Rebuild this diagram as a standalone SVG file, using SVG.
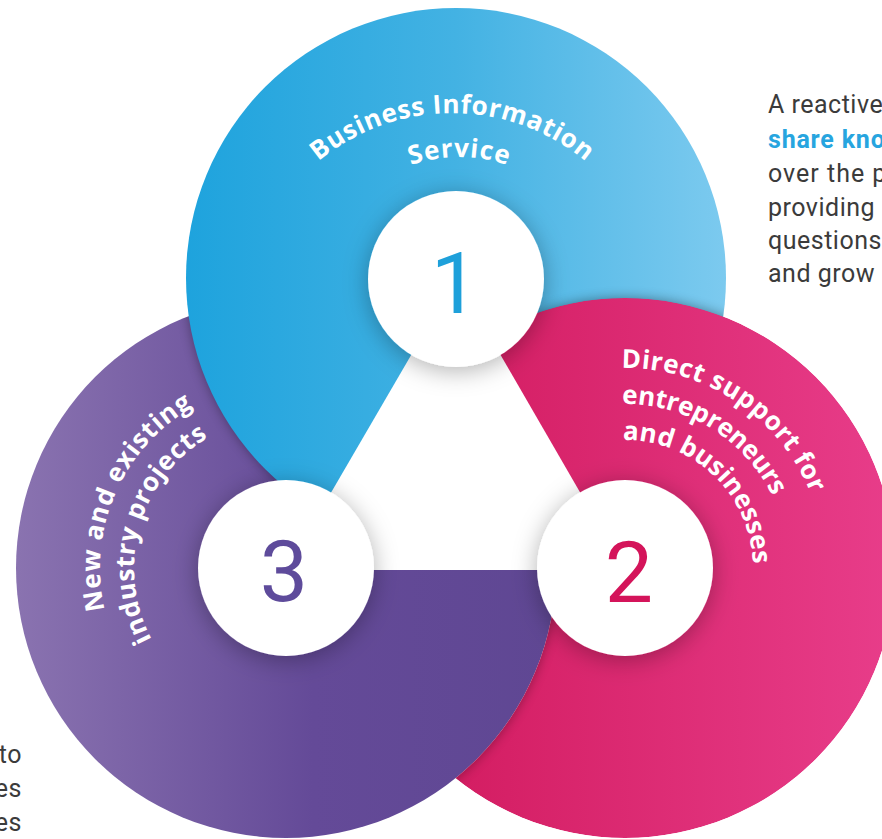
<svg xmlns="http://www.w3.org/2000/svg" width="882" height="839" viewBox="0 0 882 839">
<defs>
<style>
.lbl{font-family:"Open Sans","DejaVu Sans",sans-serif;font-weight:700;font-size:26px;fill:#ffffff}
.num{font-family:Roboto,"Liberation Sans",sans-serif;font-weight:400;font-size:86px;text-anchor:middle}
.body{font-family:Roboto,"Liberation Sans",sans-serif;font-size:25px;fill:#3b3b3b;letter-spacing:0.5px}
.dot{fill:#ffffff}
</style>
<linearGradient id="gBlue" gradientUnits="userSpaceOnUse" x1="186" y1="0" x2="726" y2="0">
<stop offset="0" stop-color="#1ea3dd"/><stop offset="0.5" stop-color="#43b2e3"/><stop offset="1" stop-color="#7ccaef"/>
</linearGradient>
<linearGradient id="gPink" gradientUnits="userSpaceOnUse" x1="355" y1="0" x2="895" y2="0">
<stop offset="0" stop-color="#cf1659"/><stop offset="1" stop-color="#e83d8a"/>
</linearGradient>
<linearGradient id="gPurple" gradientUnits="userSpaceOnUse" x1="16" y1="0" x2="556" y2="0">
<stop offset="0" stop-color="#8a73b0"/><stop offset="0.55" stop-color="#644a98"/><stop offset="1" stop-color="#5f4793"/>
</linearGradient>
<filter id="soft" x="-20%" y="-20%" width="140%" height="140%"><feGaussianBlur stdDeviation="6"/></filter>
<filter id="cshadow" x="-50%" y="-50%" width="200%" height="200%"><feDropShadow dx="0" dy="4" stdDeviation="12" flood-color="#000" flood-opacity="0.3"/></filter>
<clipPath id="cPurple"><circle cx="286" cy="568" r="270"/></clipPath>
<clipPath id="cBlue"><circle cx="456" cy="278" r="270"/></clipPath>
<mask id="mPink" maskUnits="userSpaceOnUse" x="0" y="0" width="882" height="839">
<rect width="882" height="839" fill="#000"/>
<circle cx="625" cy="568" r="270" fill="#fff"/>
<circle cx="286" cy="568" r="270" fill="#000"/>
</mask>
<path id="pB1" d="M243,322 A209,209 0 0 1 661,322"/>
<path id="pB2" d="M313,303 A146,146 0 0 1 605,303"/>
<path id="pP1" d="M621.51,368.03 A200,200 0 0 1 821.96,602.73"/>
<path id="pP2" d="M622.14,404.02 A164,164 0 0 1 786.51,596.48"/>
<path id="pP3" d="M622.77,440.02 A128,128 0 0 1 745.28,611.78"/>
<path id="pU1" d="M104.77,609.84 A186,186 0 0 1 253.70,384.83"/>
<path id="pU2" d="M151.79,639.36 A152,152 0 0 1 259.61,418.31"/>
</defs>

<g id="node-purple">
<circle cx="286" cy="568" r="270" fill="url(#gPurple)"/>
</g>

<g id="node-blue">
<circle cx="456" cy="278" r="270" fill="#000" opacity="0.35" filter="url(#soft)" clip-path="url(#cPurple)"/>
<circle cx="456" cy="278" r="270" fill="url(#gBlue)"/>
</g>

<g id="node-pink">
<circle cx="625" cy="568" r="270" fill="#000" opacity="0.38" filter="url(#soft)" clip-path="url(#cBlue)"/>
<circle cx="625" cy="568" r="270" fill="url(#gPink)" mask="url(#mPink)"/>
<g mask="url(#mPink)">
<circle cx="286" cy="568" r="270" fill="#000" opacity="0.35" filter="url(#soft)"/>
</g>
</g>

<g id="node-triangle">
<polygon points="456,278 625,570 286,570" fill="#ffffff"/>
</g>

<g id="node-1">
<circle class="dot" cx="456" cy="279" r="88" filter="url(#cshadow)"/>
<text class="num" x="455" y="313" fill="#1ea0da">1</text>
<text class="lbl"><textPath href="#pB1" startOffset="50%" text-anchor="middle" textLength="290" lengthAdjust="spacing">Business Information</textPath></text>
<text class="lbl"><textPath href="#pB2" startOffset="50%" text-anchor="middle" textLength="98" lengthAdjust="spacing">Service</textPath></text>
</g>

<g id="node-2">
<circle class="dot" cx="625" cy="568" r="88" filter="url(#cshadow)"/>
<text class="num" x="629" y="602" fill="#d4145a">2</text>
<text class="lbl"><textPath href="#pP1" textLength="241" lengthAdjust="spacing">Direct support for</textPath></text>
<text class="lbl"><textPath href="#pP2" textLength="186" lengthAdjust="spacing">entrepreneurs</textPath></text>
<text class="lbl"><textPath href="#pP3" textLength="199" lengthAdjust="spacing">and businesses</textPath></text>
</g>

<g id="node-3">
<circle class="dot" cx="286" cy="568" r="88" filter="url(#cshadow)"/>
<text class="num" x="284" y="601" fill="#5e4b9b">3</text>
<text class="lbl"><textPath href="#pU1" textLength="237" lengthAdjust="spacing">New and existing</textPath></text>
<text class="lbl"><textPath href="#pU2" textLength="231" lengthAdjust="spacing">industry projects</textPath></text>
</g>

<g id="connectors"></g>

<g id="text-right">
<text class="body" x="768" y="113">A reactive</text>
<text class="body" x="768" y="148" style="font-weight:700;fill:#27a5df;letter-spacing:0.8px">share kno</text>
<text class="body" x="768" y="182" style="letter-spacing:1px">over the p</text>
<text class="body" x="768" y="216">providing</text>
<text class="body" x="768" y="249">questions</text>
<text class="body" x="768" y="282">and grow</text>
</g>

<g id="text-left">
<text class="body" x="22" y="763" text-anchor="end">to</text>
<text class="body" x="22" y="797" text-anchor="end">es</text>
<text class="body" x="22" y="831" text-anchor="end">es</text>
</g>
</svg>
